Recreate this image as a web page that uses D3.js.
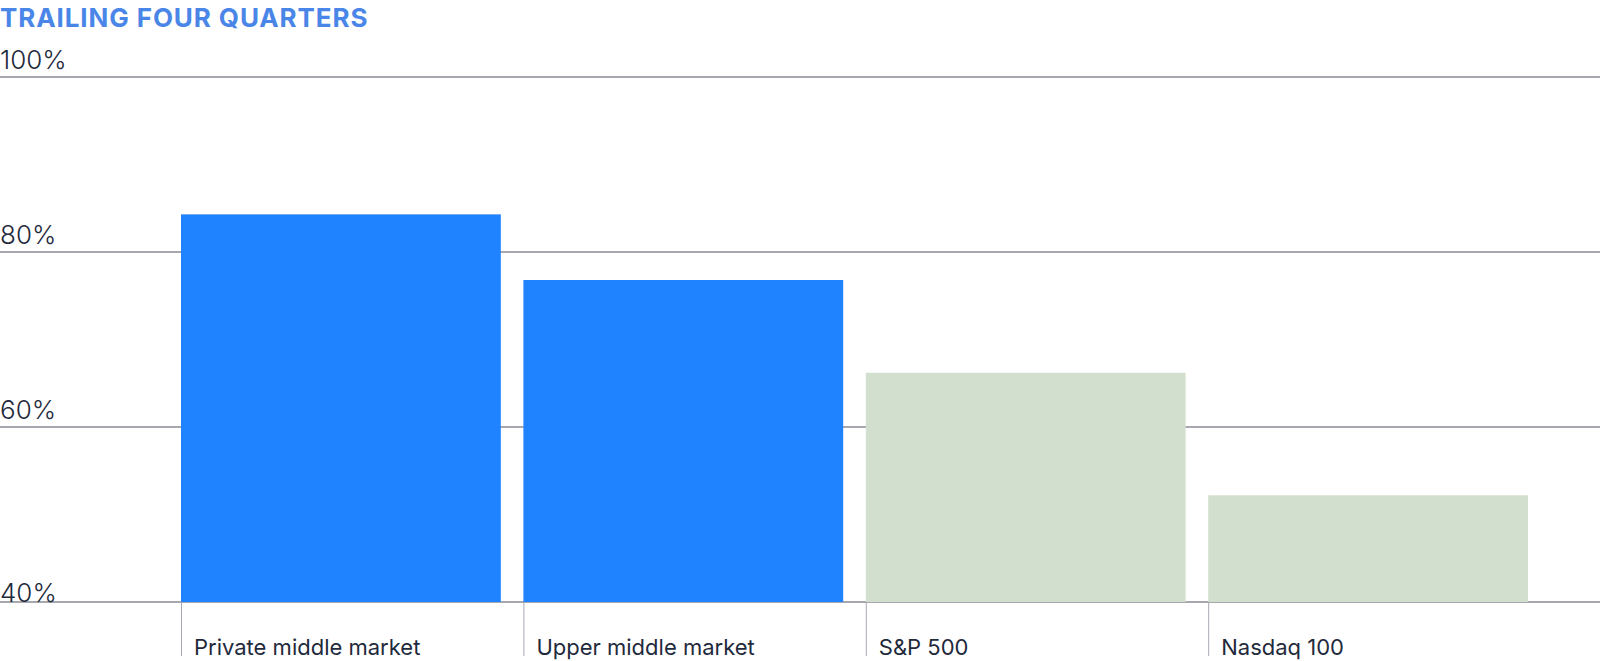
<!DOCTYPE html>
<html lang="en">
<head>
    <meta charset="UTF-8">
    <title>Trailing Four Quarters</title>
    <script src="https://d3js.org/d3.v7.min.js"></script>
    <style>
        body {
            margin: 0;
            background: #fff;
        }
        .title {
            font-family: Inter, "Noto Sans", sans-serif;
            font-weight: 700;
            font-size: 26px;
            letter-spacing: 0.9px;
            fill: #4a86e8;
        }
        .y-label {
            font-family: Inter, "Noto Sans", sans-serif;
            font-weight: 300;
            font-size: 26px;
            fill: #1f2a3c;
        }
        .x-label {
            font-family: Inter, "Noto Sans", sans-serif;
            font-weight: 400;
            font-size: 22px;
            fill: #1f2a3c;
        }
    </style>
</head>
<body>
    <svg id="chart" width="1600" height="661"></svg>

    <script>
        const categories = ["Private middle market", "Upper middle market", "S&P 500", "Nasdaq 100"];
        const values = [84.3, 76.8, 66.2, 52.2];
        const barColors = ["#1f82ff", "#1f82ff", "#d3dfce", "#d3dfce"];
        const yTicks = [40, 60, 80, 100];

        const svg = d3.select("#chart");

        const y = d3.scaleLinear()
            .domain([40, 100])
            .range([602, 77]);

        const x = d3.scaleBand()
            .domain(categories)
            .range([181, 1528])
            .paddingInner(0.066)
            .paddingOuter(0);

        // title
        svg.append("text")
            .attr("class", "title")
            .attr("x", 0)
            .attr("y", 27)
            .text("TRAILING FOUR QUARTERS");

        // gridlines
        svg.append("g")
            .selectAll("line")
            .data(yTicks)
            .enter().append("line")
            .attr("x1", 0)
            .attr("x2", 1600)
            .attr("y1", d => y(d))
            .attr("y2", d => y(d))
            .attr("stroke", "#8a8a94")
            .attr("stroke-width", 1.5);

        // y labels (bottom one sits on its line)
        svg.append("g")
            .selectAll("text")
            .data(yTicks)
            .enter().append("text")
            .attr("class", "y-label")
            .attr("x", 0)
            .attr("y", d => d === 40 ? y(d) : y(d) - 8)
            .text(d => d + "%");

        // bars
        svg.append("g")
            .selectAll("rect")
            .data(categories)
            .enter().append("rect")
            .attr("x", d => x(d))
            .attr("y", (d, i) => y(values[i]))
            .attr("width", x.bandwidth())
            .attr("height", (d, i) => y(40) - y(values[i]))
            .attr("fill", (d, i) => barColors[i]);

        // category ticks and labels
        const cat = svg.append("g")
            .selectAll("g")
            .data(categories)
            .enter().append("g")
            .attr("transform", d => `translate(${x(d)},0)`);

        cat.append("line")
            .attr("x1", 0.5)
            .attr("x2", 0.5)
            .attr("y1", y(40))
            .attr("y2", 656)
            .attr("stroke", "#a8a8b2")
            .attr("stroke-width", 1);

        cat.append("text")
            .attr("class", "x-label")
            .attr("x", 13)
            .attr("y", 655)
            .text(d => d);
    </script>
</body>
</html>
